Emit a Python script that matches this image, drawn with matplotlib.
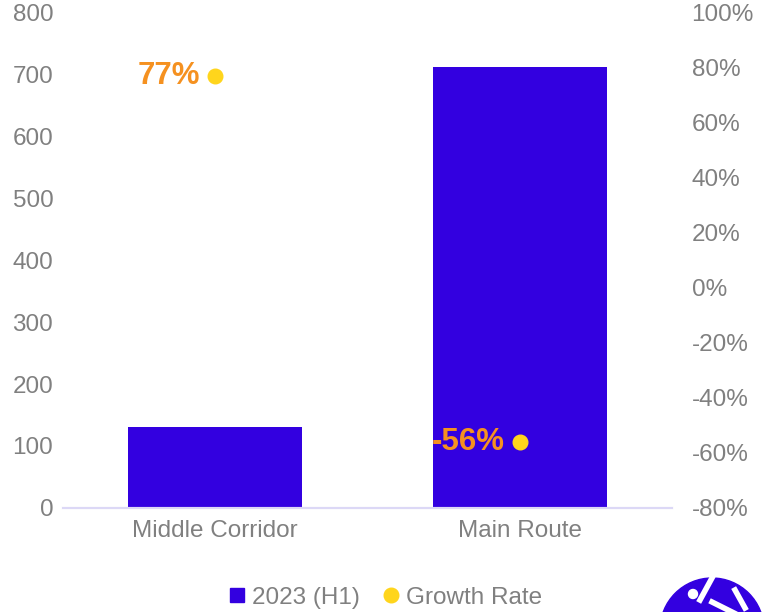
import matplotlib
matplotlib.use("Agg")
import matplotlib.pyplot as plt
from matplotlib.lines import Line2D
from matplotlib.patches import Ellipse

plt.rcParams['font.family'] = ['Liberation Sans', 'DejaVu Sans']

categories = ["Middle Corridor", "Main Route"]
volume_2023_h1 = [131, 711]
growth_rate = [77, -56]
growth_labels = ["77%", "-56%"]

bar_color = "#3300e0"
dot_color = "#ffd51c"
label_color = "#f59120"
text_gray = "#808080"

fig = plt.figure(figsize=(7.62, 6.12), dpi=100)
ax = fig.add_axes([0.0827, 0.17, 0.7993, 0.81])
ax2 = ax.twinx()

x = list(range(len(categories)))
ax.bar(x, volume_2023_h1, width=0.57, color=bar_color, zorder=2)
ax.set_xlim(-0.5, 1.5)
ax.set_ylim(0, 800)
ax.set_yticks(range(0, 801, 100))
ax.set_xticks(x)
ax.set_xticklabels(categories)

ax2.plot(x, growth_rate, linestyle="none", marker="o", markersize=10.5,
         color=dot_color, zorder=3)
for xi, g, lab in zip(x, growth_rate, growth_labels):
    ax2.annotate(lab, (xi, g), xytext=(-11, 0), textcoords="offset points",
                 ha="right", va="center", fontsize=22.5, fontweight="bold",
                 color=label_color)
ax2.set_ylim(-80, 100)
ax2.set_yticks(range(-80, 101, 20))
ax2.set_yticklabels([f"{v}%" for v in range(-80, 101, 20)])

for a in (ax, ax2):
    for side in ("top", "left", "right"):
        a.spines[side].set_visible(False)
    a.spines["bottom"].set_color("#dcd8f6")
    a.spines["bottom"].set_linewidth(1.5)
    a.tick_params(length=0, labelsize=17.5, labelcolor=text_gray)
ax.tick_params(axis="y", pad=7)
ax.tick_params(axis="x", pad=9)
ax2.tick_params(axis="y", pad=14)

handles = [
    Line2D([], [], linestyle="none", marker="s", markersize=10, color=bar_color),
    Line2D([], [], linestyle="none", marker="o", markersize=10.5, color=dot_color),
]
fig.legend(handles, ["2023 (H1)", "Growth Rate"], loc="center",
           bbox_to_anchor=(0.503, 0.023), ncol=2, frameon=False,
           fontsize=17.5, labelcolor=text_gray, handletextpad=0.1,
           columnspacing=0.8, handlelength=1.0)

# partial logo in bottom-right corner
fig.add_artist(Ellipse((712 / 762, -18 / 612), 104 / 762, 104 / 612,
                       transform=fig.transFigure, color=bar_color, clip_on=False))
fig.add_artist(Ellipse((693 / 762, 18 / 612), 9 / 762, 9 / 612,
                       transform=fig.transFigure, color="white"))
fig.add_artist(Line2D([700 / 762, 712 / 762], [12 / 612, 34 / 612],
                      transform=fig.transFigure, color="white", linewidth=4))
fig.add_artist(Line2D([712 / 762, 740 / 762], [10 / 612, -4 / 612],
                      transform=fig.transFigure, color="white", linewidth=4))
fig.add_artist(Line2D([735 / 762, 745 / 762], [22 / 612, 4 / 612],
                      transform=fig.transFigure, color="white", linewidth=4))

fig.savefig("out.png", dpi=100)
